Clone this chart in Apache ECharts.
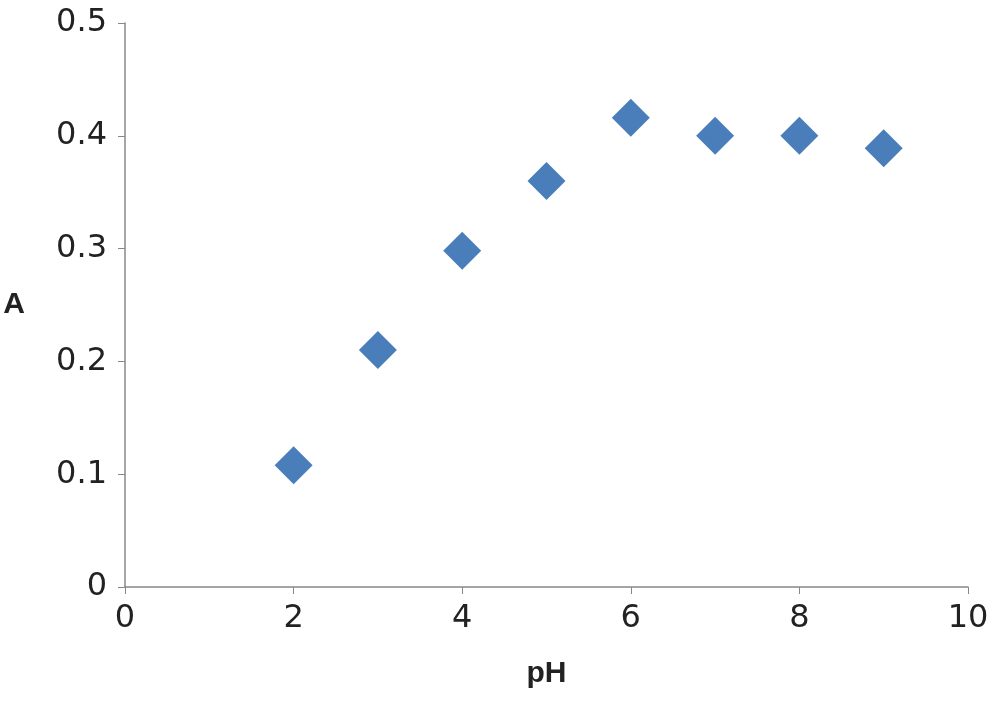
<!DOCTYPE html>
<html><head><meta charset="utf-8">
<script src="https://cdn.jsdelivr.net/npm/echarts@6/dist/echarts.min.js"></script>
<style>html,body{margin:0;background:#fff}#c{width:1000px;height:705px}</style>
</head><body><div id="c"></div>
<script>
const xValues = [2, 3, 4, 5, 6, 7, 8, 9];
const yValues = [0.108, 0.210, 0.298, 0.360, 0.416, 0.400, 0.400, 0.389];
const chart = echarts.init(document.getElementById('c'));
const axisCommon = {
  axisLine:{show:true,lineStyle:{color:'#888',width:1.5}},
  axisTick:{show:true,lineStyle:{color:'#888'},length:7},
  splitLine:{show:false},
  axisLabel:{color:'#222',fontSize:32,fontFamily:'DejaVu Sans'}
};
chart.setOption({
  animation:false,
  grid:{left:125,right:32,top:23,bottom:118},
  xAxis:Object.assign({type:'value',min:0,max:10,interval:2,name:'pH',nameLocation:'middle',nameGap:72,
    nameTextStyle:{fontSize:30,fontWeight:'bold',color:'#222',fontFamily:'Liberation Sans'}},axisCommon,
    {axisLabel:Object.assign({},axisCommon.axisLabel,{margin:16})}),
  yAxis:Object.assign({type:'value',min:0,max:0.5,interval:0.1,name:'A',nameLocation:'middle',nameGap:100,nameRotate:0,
    nameTextStyle:{fontSize:30,fontWeight:'bold',color:'#222',fontFamily:'Liberation Sans',padding:[50,0,0,0]}},axisCommon,
    {axisLabel:Object.assign({},axisCommon.axisLabel,{margin:18})}),
  series:[{type:'scatter',data:xValues.map((x,i)=>[x,yValues[i]]),symbol:'diamond',symbolSize:38,
    itemStyle:{color:'#4a7ebb',opacity:1}}]
});
</script></body></html>
